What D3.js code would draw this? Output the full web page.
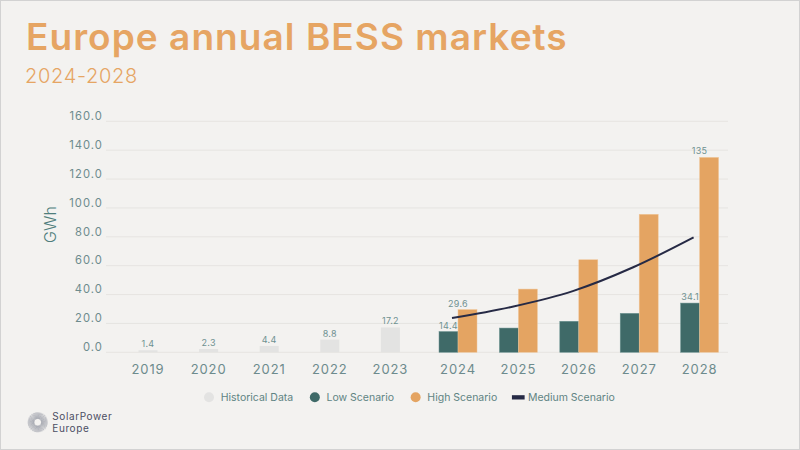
<!DOCTYPE html>
<html><head><meta charset="utf-8">
<script src="https://cdn.jsdelivr.net/npm/d3@7"></script>
<style>html,body{margin:0;padding:0;background:#f3f2f0;} svg{display:block;font-family:Inter,'Noto Sans',sans-serif;}</style>
</head><body><svg id="c" width="800" height="450"></svg>
<script>
const histYears = ["2019","2020","2021","2022","2023"];
const histValues = [1.4, 2.3, 4.4, 8.8, 17.2];
const projYears = ["2024","2025","2026","2027","2028"];
const lowValues = [14.4, 16.8, 21.5, 27.0, 34.1];
const highValues = [29.6, 43.8, 64.1, 95.6, 135];
const mediumValues = [23.7, 31.6, 42.4, 58.9, 79.6];
const lowLabels = ["14.4", "", "", "", "34.1"];
const highLabels = ["29.6", "", "", "", "135"];
const yTicks = [0, 20, 40, 60, 80, 100, 120, 140, 160];
const legendNames = ["Historical Data", "Low Scenario", "High Scenario", "Medium Scenario"];
const legendColors = ["#e3e3e2", "#3f6a68", "#e4a462", "#262a45"];

const C = {bg:"#f3f2f0", title:"#e6a563", hist:"#e3e3e2", low:"#3f6a68", high:"#e4a462", med:"#262a45",
  grid:"#e6e4e1", axis:"#6d8b8d", label:"#6f9190"};

const svg = d3.select("#c");
svg.append("rect").attr("width",800).attr("height",450).attr("fill",C.bg);
svg.append("rect").attr("x",0.5).attr("y",0.5).attr("width",799).attr("height",449)
  .attr("fill","none").attr("stroke","#d2d2d2");

svg.append("text").attr("x",26).attr("y",49.5).attr("fill",C.title)
  .attr("font-size",37).attr("font-weight",600).attr("letter-spacing",1.05).text("Europe annual BESS markets");
svg.append("text").attr("x",25).attr("y",82.5).attr("fill",C.title)
  .attr("font-size",20).attr("font-weight",300).attr("letter-spacing",0.7).text("2024-2028");

const y = d3.scaleLinear().domain([0,160]).range([352.3,121.3]);
const xH = d3.scaleBand().domain(histYears).range([117.7,420.7]);
const xP = d3.scaleBand().domain(projYears).range([427.8,729.8]);
const bw = 19;

// grid + y labels
const yAxis = d3.axisLeft(y).tickValues(yTicks).tickSize(0).tickFormat(d3.format(".1f"));
const gy = svg.append("g").attr("transform","translate(102.7,0)").call(yAxis);
gy.select(".domain").remove();
gy.selectAll("text").attr("x",0).attr("dy",0).attr("y",-1.8).attr("fill",C.axis)
  .attr("font-size",11.2).attr("letter-spacing",1).attr("font-family","Inter,'Noto Sans',sans-serif").attr("text-anchor","end");
svg.append("g").selectAll("line").data(yTicks).join("line")
  .attr("x1",106).attr("x2",728).attr("y1",d=>y(d)).attr("y2",d=>y(d))
  .attr("stroke",C.grid).attr("stroke-width",1);

svg.append("text").attr("transform","translate(56,224.5) rotate(-90)").attr("text-anchor","middle")
  .attr("fill","#4f7e7c").attr("font-size",16).attr("font-weight",300).text("GWh");

// historical bars
svg.append("g").selectAll("rect").data(histValues).join("rect")
  .attr("x",(d,i)=>xH(histYears[i])+xH.bandwidth()/2-bw/2).attr("width",bw)
  .attr("y",d=>y(d)).attr("height",d=>y(0)-y(d)).attr("fill",C.hist);
svg.append("g").selectAll("text").data(histValues).join("text")
  .attr("x",(d,i)=>xH(histYears[i])+xH.bandwidth()/2).attr("y",d=>y(d)-3)
  .attr("text-anchor","middle").attr("font-size",9).attr("letter-spacing",0.3).attr("fill",C.label).text(d=>d.toFixed(1));

// low / high bars
svg.append("g").selectAll("rect").data(lowValues).join("rect")
  .attr("x",(d,i)=>xP(projYears[i])+xP.bandwidth()/2-bw).attr("width",bw)
  .attr("y",d=>y(d)).attr("height",d=>y(0)-y(d)).attr("fill",C.low)
  .attr("stroke","#6f9593").attr("stroke-width",0.5);
svg.append("g").selectAll("rect").data(highValues).join("rect")
  .attr("x",(d,i)=>xP(projYears[i])+xP.bandwidth()/2).attr("width",bw)
  .attr("y",d=>y(d)).attr("height",d=>y(0)-y(d)).attr("fill",C.high)
  .attr("stroke","#f0c79c").attr("stroke-width",0.5);
svg.append("g").selectAll("text").data(lowValues).join("text")
  .attr("x",(d,i)=>xP(projYears[i])+xP.bandwidth()/2-bw/2).attr("y",d=>y(d)-3)
  .attr("text-anchor","middle").attr("font-size",9).attr("letter-spacing",0.3).attr("fill",C.label).text((d,i)=>lowLabels[i]);
svg.append("g").selectAll("text").data(highValues).join("text")
  .attr("x",(d,i)=>xP(projYears[i])+xP.bandwidth()/2).attr("y",d=>y(d)-3)
  .attr("text-anchor","middle").attr("font-size",9).attr("letter-spacing",0.3).attr("fill",C.label).text((d,i)=>highLabels[i]);

// medium line
const line = d3.line().x((d,i)=>xP(projYears[i])+xP.bandwidth()/2-6).y(d=>y(d)).curve(d3.curveMonotoneX);
svg.append("path").datum(mediumValues).attr("d",line).attr("fill","none")
  .attr("stroke",C.med).attr("stroke-width",2);

// x axes
function xax(scale){
  const g = svg.append("g").attr("transform","translate(0,352.3)").call(d3.axisBottom(scale).tickSize(0));
  g.select(".domain").remove();
  g.selectAll("text").attr("y",21.7).attr("dy",0).attr("fill",C.axis).attr("font-size",13)
    .attr("letter-spacing",0.9).attr("font-family","Inter,'Noto Sans',sans-serif");
}
xax(xH); xax(xP);

// legend
let lx = 204;
const lg = svg.append("g");
legendNames.forEach((n,i)=>{
  if(i<3){
    lg.append("circle").attr("cx",lx+5).attr("cy",397.3).attr("r",5).attr("fill",legendColors[i]);
  } else {
    lg.append("rect").attr("x",lx+2).attr("y",395.2).attr("width",12.7).attr("height",4.3).attr("fill",legendColors[i]);
  }
  const t = lg.append("text").attr("x",lx+(i<3?16.7:18)).attr("y",401).attr("font-size",10.5)
    .attr("fill","#5f8483").text(n);
  lx = lx + (i<3?16.7:18) + t.node().getComputedTextLength() + (i<2?16.6:12.7);
});

// logo
const logo = svg.append("g").attr("transform","translate(37.7,422.3)");
d3.range(56).forEach(k=>{
  const a = k/56*2*Math.PI;
  logo.append("line").attr("x1",Math.cos(a)*3.5).attr("y1",Math.sin(a)*3.5)
    .attr("x2",Math.cos(a)*10).attr("y2",Math.sin(a)*10)
    .attr("stroke","#9b9ea8").attr("stroke-width",0.6);
});
svg.append("text").attr("x",52.3).attr("y",419.8).attr("font-size",10).attr("letter-spacing",0.6).attr("fill","#4b4e63").text("SolarPower");
svg.append("text").attr("x",52.3).attr("y",432.3).attr("font-size",10).attr("letter-spacing",0.6).attr("fill","#4b4e63").text("Europe");
</script></body></html>
